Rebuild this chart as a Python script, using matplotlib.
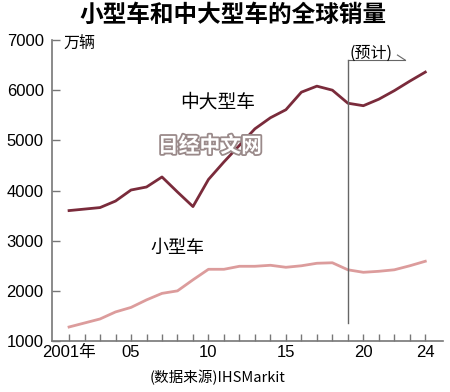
import matplotlib
matplotlib.use("Agg")
import matplotlib.pyplot as plt
import matplotlib.patheffects as pe

plt.rcParams['font.family'] = ['Liberation Sans', 'Noto Sans CJK SC', 'DejaVu Sans']

years = list(range(2001, 2025))
# 中大型车 (万辆)
large = [3600, 3630, 3660, 3790, 4010, 4070, 4270, 3970, 3680, 4220, 4570, 4900,
         5230, 5450, 5610, 5960, 6080, 6000, 5740, 5690, 5820, 5990, 6180, 6360]
# 小型车 (万辆)
small = [1280, 1360, 1440, 1580, 1670, 1820, 1950, 2000, 2220, 2430, 2430, 2490,
         2490, 2510, 2470, 2500, 2550, 2560, 2420, 2370, 2390, 2420, 2500, 2590]
forecast_year = 2019
xtick_pos = [2001, 2005, 2010, 2015, 2020, 2024]
xtick_lbl = ['2001年', '05', '10', '15', '20', '24']
yticks = [1000, 2000, 3000, 4000, 5000, 6000, 7000]

fig = plt.figure(figsize=(4.5, 3.92), dpi=100)
ax = fig.add_axes([0.1156, 0.130, 0.8684, 0.768])

c_large = '#7a2b3b'
c_small = '#dc9c9c'
grey = '#777777'

ax.plot(years, large, color=c_large, lw=2.0, solid_joinstyle='round')
ax.plot(years, small, color=c_small, lw=2.0, solid_joinstyle='round')

# 预计 marker
ax.plot([forecast_year, forecast_year], [1360, 6600], color='#666666', lw=1.0)
ax.plot([forecast_year, 2022.7], [6600, 6600], color='#666666', lw=0.8)
ax.plot([2022.2, 2022.7], [6700, 6600], color='#666666', lw=0.8)
ax.text(2020.5, 6740, '(预计)', ha='center', va='center', fontsize=11.5,
        family=['Noto Sans CJK SC'])

ax.set_xlim(1999.9, 2025.13)
ax.set_ylim(1000, 7000)
ax.set_xticks(years, minor=True)
ax.set_xticks(xtick_pos)
ax.set_xticklabels(xtick_lbl)
ax.set_yticks(yticks)
ax.tick_params(axis='both', which='both', direction='in', color=grey, width=1)
ax.tick_params(axis='x', which='both', length=5, pad=3, labelsize=12)
ax.tick_params(axis='y', length=6, pad=6, labelsize=12)
for s in ['top', 'right']:
    ax.spines[s].set_visible(False)
for s in ['left', 'bottom']:
    ax.spines[s].set_color(grey)
    ax.spines[s].set_linewidth(1.2)

ax.text(2001.7, 6940, '万辆', ha='center', va='center', fontsize=11.5,
        family=['Noto Sans CJK SC'])
ax.text(2010.6, 5760, '中大型车', ha='center', va='center', fontsize=13.5,
        family=['Noto Sans CJK SC'])
ax.text(2008.0, 2860, '小型车', ha='center', va='center', fontsize=13,
        family=['Noto Sans CJK SC'])
ax.text(2010.1, 4890, '日经中文网', ha='center', va='center', fontsize=15,
        fontweight='bold', color='white', family=['Noto Sans CJK SC'],
        path_effects=[pe.withStroke(linewidth=2.6, foreground='#9a8a8a')])

fig.text(0.518, 0.962, '小型车和中大型车的全球销量', ha='center', va='center',
         fontsize=17, fontweight='bold', family=['Noto Sans CJK SC'])
fig.text(0.484, 0.038, '(数据来源)IHSMarkit', ha='center', va='center',
         fontsize=10.5, family=['Noto Sans CJK SC'])

fig.savefig('out.png', dpi=100, facecolor='white')
